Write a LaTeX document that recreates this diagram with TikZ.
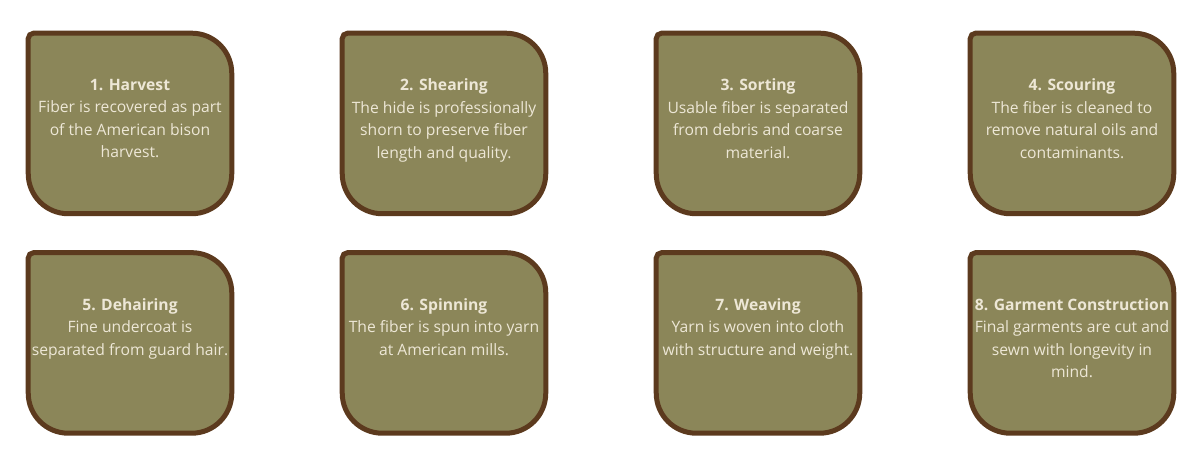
\documentclass[tikz,border=0pt]{standalone}
\usepackage{fontspec}
\setmainfont{Open Sans}[Ligatures=NoCommon]
\usepackage{tikz}
\usetikzlibrary{backgrounds}
\usetikzlibrary{positioning}
\definecolor{cardfill}{RGB}{139,134,89}
\definecolor{cardedge}{RGB}{92,58,30}
\definecolor{cardink}{RGB}{237,231,214}
\tikzstyle{card} = [rectangle, inner sep=0pt, minimum width=152.25pt,
    minimum height=135pt, text=cardink]
\tikzstyle{cardline} = [draw=cardedge, fill=cardfill, line width=3.75pt]
\newcommand{\steptext}[2]{\parbox[c][66.75pt][t]{152.25pt}{\centering
    \fontsize{11.75pt}{16.9pt}\selectfont\textbf{#1}\\#2}}

\begin{document}
\begin{tikzpicture}[node distance=235.5pt]
    \useasboundingbox (0,0) rectangle (900pt,337.5pt);
    % Place nodes
    \node[card] (harvest) at (97.5pt,244.9pt) {\steptext{1. Harvest}{Fiber is recovered as part\\of the American bison\\harvest.}};
    \node[card, right of=harvest] (shearing) {\steptext{2. Shearing}{The hide is professionally\\shorn to preserve fiber\\length and quality.}};
    \node[card, right of=shearing] (sorting) {\steptext{3. Sorting}{Usable fiber is separated\\from debris and coarse\\material.}};
    \node[card, right of=sorting] (scouring) {\steptext{4. Scouring}{The fiber is cleaned to\\remove natural oils and\\contaminants.}};
    \node[card, below of=harvest, node distance=164.6pt] (dehairing) {\steptext{5. Dehairing}{Fine undercoat is\\separated from guard hair.}};
    \node[card, right of=dehairing] (spinning) {\steptext{6. Spinning}{The fiber is spun into yarn\\at American mills.}};
    \node[card, right of=spinning] (weaving) {\steptext{7. Weaving}{Yarn is woven into cloth\\with structure and weight.}};
    \node[card, right of=weaving] (garment) {\steptext{8. Garment Construction}{Final garments are cut and\\sewn with longevity in\\mind.}};
    % Draw card outlines
    \begin{scope}[on background layer]
    \foreach \n in {harvest,shearing,sorting,scouring,dehairing,spinning,weaving,garment}
        \draw[cardline] ([yshift=-4pt]\n.north west) arc[start angle=180, end angle=90, radius=4pt]
            -- ([xshift=-30pt]\n.north east) arc[start angle=90, end angle=0, radius=30pt]
            -- ([yshift=30pt]\n.south east) arc[start angle=0, end angle=-90, radius=30pt]
            -- ([xshift=30pt]\n.south west) arc[start angle=270, end angle=180, radius=30pt]
            -- cycle;
    \end{scope}
\end{tikzpicture}
\end{document}
